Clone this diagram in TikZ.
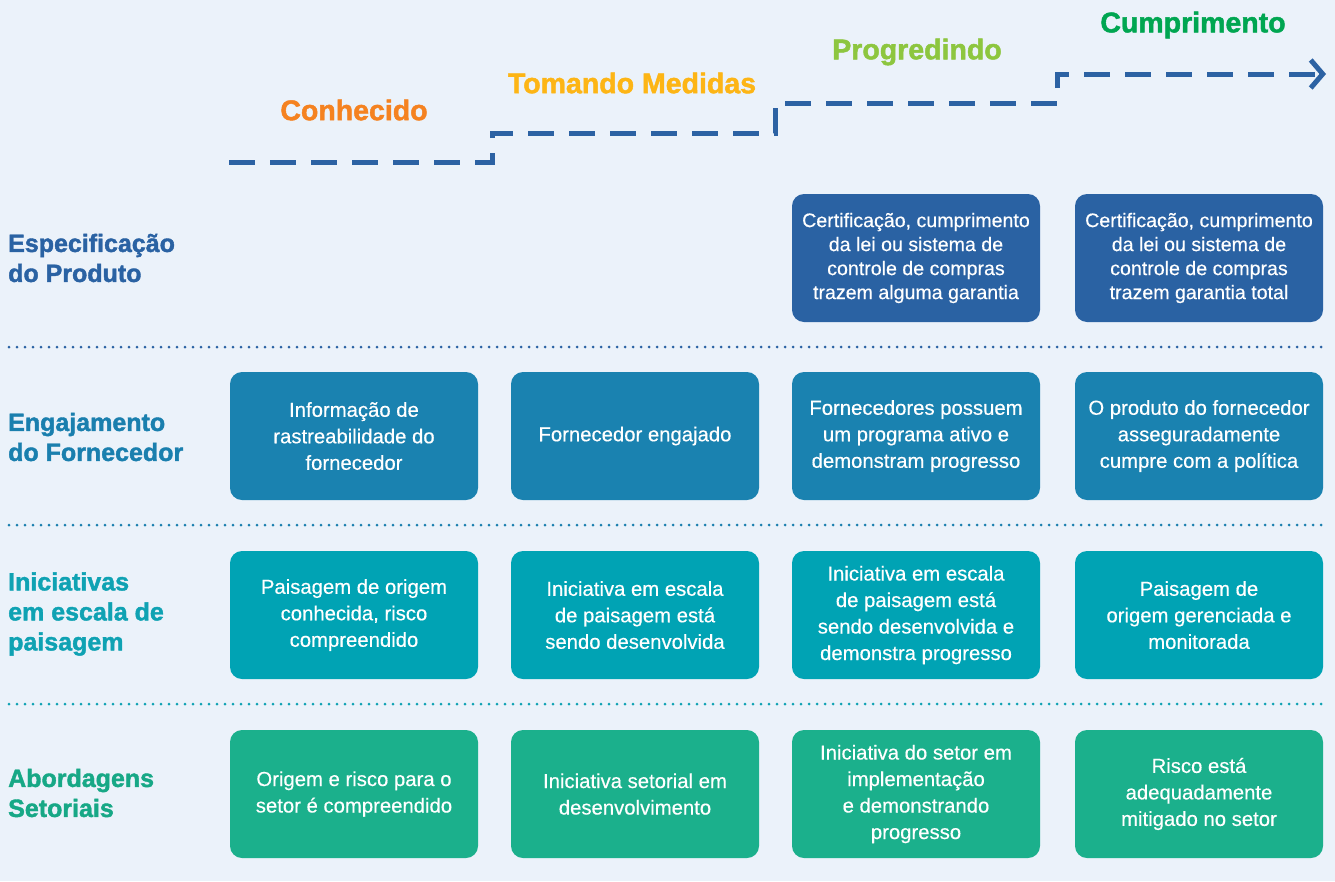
\documentclass[tikz,border=0pt]{standalone}
\usepackage{fontspec}
\setmainfont{Liberation Sans}
\newfontfamily\heavyfont[FakeBold=1.6]{Liberation Sans Bold}
\newfontfamily\medfont[FakeBold=0.35]{Liberation Sans}
\usetikzlibrary{arrows.meta}
\definecolor{bgc}{HTML}{EBF2FA}
\definecolor{cblue}{HTML}{2A62A3}
\definecolor{cmid}{HTML}{1A82B0}
\definecolor{cteal}{HTML}{00A3B4}
\definecolor{cgreen}{HTML}{1BB08C}
\definecolor{lblue}{HTML}{2A62A3}
\definecolor{lmid}{HTML}{1A7FAE}
\definecolor{lteal}{HTML}{0FA2B3}
\definecolor{lgreen}{HTML}{17A886}
\definecolor{corange}{HTML}{F58220}
\definecolor{cyellow}{HTML}{FDB515}
\definecolor{clime}{HTML}{8DC63F}
\definecolor{cdgreen}{HTML}{00A651}
\definecolor{linec}{HTML}{2C62A3}
\tikzset{
  stagebox/.style={rounded corners=12pt, minimum width=248pt, minimum height=128pt, inner sep=0pt,
    align=center, text=white, font=\medfont\fontsize{20.3}{26.5}\selectfont},
  tightbox/.style={stagebox, font=\medfont\fontsize{19.6}{24}\selectfont},
  rowlabel/.style={anchor=west, align=left, inner sep=0pt, font=\heavyfont\fontsize{25}{30}\selectfont},
  stagetitle/.style={inner sep=0pt, font=\heavyfont\fontsize{28.5}{30}\selectfont},
  sepline/.style={line width=3pt, line cap=round, dash pattern=on 0pt off 8pt},
  stairline/.style={line width=5pt, color=linec, dash pattern=on 26pt off 15pt,
    -{Straight Barb[length=12pt,width=28pt]}}
}
\begin{document}
\begin{tikzpicture}[x=1pt,y=-1pt]
\fill[bgc] (0,0) rectangle (1335,881);
\useasboundingbox (0,0) rectangle (1335,881);

% stage titles
\node[stagetitle, text=corange] (t1) at (354,110) {Conhecido};
\node[stagetitle, text=cyellow] (t2) at (632,83) {Tomando Medidas};
\node[stagetitle, text=clime] (t3) at (917,52) {Progredindo};
\node[stagetitle, text=cdgreen] (t4) at (1193,25) {Cumprimento};

% staircase line
\coordinate (p0) at (229,162);
\coordinate (p1) at (492,162);
\coordinate (p2) at (492,133);
\coordinate (p3) at (775,133);
\coordinate (p4) at (775,103);
\coordinate (p5) at (1057,103);
\coordinate (p6) at (1057,74);
\coordinate (p7) at (1326,74);
\draw[stairline] (p0) -- (p1) -- (p2) -- (p3) -- (p4) -- (p5) -- (p6) -- (p7);

% row labels
\node[rowlabel, text=lblue] (l1) at (8,258) {Especificação\\do Produto};
\node[rowlabel, text=lmid] (l2) at (8,437) {Engajamento\\do Fornecedor};
\node[rowlabel, text=lteal] (l3) at (8,614) {Iniciativas\\em escala de\\paisagem};
\node[rowlabel, text=lgreen] (l4) at (8,793) {Abordagens\\Setoriais};

% separators
\coordinate (s1a) at (9,347); \coordinate (s1b) at (1325,347);
\coordinate (s2a) at (9,525); \coordinate (s2b) at (1325,525);
\coordinate (s3a) at (9,704); \coordinate (s3b) at (1325,704);
\draw[sepline, color=lblue] (s1a) -- (s1b);
\draw[sepline, color=lmid] (s2a) -- (s2b);
\draw[sepline, color=lteal] (s3a) -- (s3b);

% row 1
\node[tightbox, fill=cblue] (b13) at (916,258) {Certificação, cumprimento\\da lei ou sistema de\\controle de compras\\trazem alguma garantia};
\node[tightbox, fill=cblue] (b14) at (1199,258) {Certificação, cumprimento\\da lei ou sistema de\\controle de compras\\trazem garantia total};

% row 2
\node[stagebox, fill=cmid] (b21) at (354,436) {Informação de\\rastreabilidade do\\fornecedor};
\node[stagebox, fill=cmid] (b22) at (635,436) {Fornecedor engajado};
\node[stagebox, fill=cmid] (b23) at (916,436) {Fornecedores possuem\\um programa ativo e\\demonstram progresso};
\node[stagebox, fill=cmid] (b24) at (1199,436) {O produto do fornecedor\\asseguradamente\\cumpre com a política};

% row 3
\node[stagebox, fill=cteal] (b31) at (354,615) {Paisagem de origem\\conhecida, risco\\compreendido};
\node[stagebox, fill=cteal] (b32) at (635,615) {Iniciativa em escala\\de paisagem está\\sendo desenvolvida};
\node[stagebox, fill=cteal] (b33) at (916,615) {Iniciativa em escala\\de paisagem está\\sendo desenvolvida e\\demonstra progresso};
\node[stagebox, fill=cteal] (b34) at (1199,615) {Paisagem de\\origem gerenciada e\\monitorada};

% row 4
\node[stagebox, fill=cgreen] (b41) at (354,794) {Origem e risco para o\\setor é compreendido};
\node[stagebox, fill=cgreen] (b42) at (635,794) {Iniciativa setorial em\\desenvolvimento};
\node[stagebox, fill=cgreen] (b43) at (916,794) {Iniciativa do setor em\\implementação\\e demonstrando\\progresso};
\node[stagebox, fill=cgreen] (b44) at (1199,794) {Risco está\\adequadamente\\mitigado no setor};
\end{tikzpicture}
\end{document}
